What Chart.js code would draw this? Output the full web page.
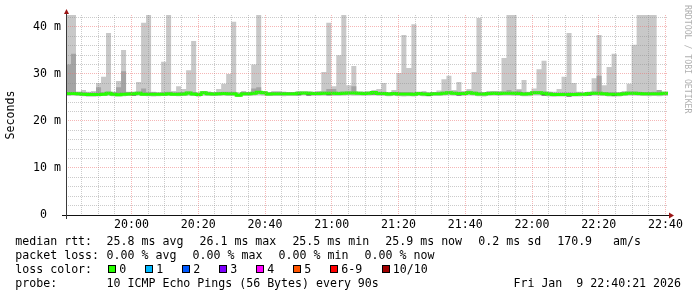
<!DOCTYPE html>
<html>
<head>
<meta charset="utf-8">
<script src="https://cdn.jsdelivr.net/npm/chart.js@4.4.1/dist/chart.umd.min.js"></script>
<style>
  html, body { margin: 0; padding: 0; background: #fff; }
  #wrap { position: relative; width: 697px; height: 297px; background: #fff; overflow: hidden; }
  #chart { position: absolute; left: 0; top: 0; }
  .txt { position: absolute; font-family: 'DejaVu Sans Mono', monospace; font-size: 11.6px; line-height: 14px; color: #000; white-space: pre; }
  .box { position: absolute; width: 8px; height: 8px; box-sizing: border-box; border: 1px solid #000; }
  #wm { position: absolute; left: 684px; top: 5px; font-family: 'DejaVu Sans Mono', monospace; font-size: 8.2px; line-height: 8px; color: #b0b0b0; writing-mode: vertical-rl; white-space: pre; }
</style>
</head>
<body>
<div id="wrap">
  <canvas id="chart" width="697" height="297"></canvas>
  <div id="wm">RRDTOOL / TOBI OETIKER</div>
  <div id="legend"></div>
</div>
<script>
// time base: one sample every 90 s, 3 hours ending 22:40:21 (minutes since midnight)
const startMinute = 1180.35;
const stepMinutes = 1.5;
const xMax = 1360.75;

// x ticks (minutes since midnight) and their labels
const majorMinutes = [1200, 1220, 1240, 1260, 1280, 1300, 1320, 1340, 1360];
const xTickLabels = ['20:00', '20:20', '20:40', '21:00', '21:20', '21:40', '22:00', '22:20', '22:40'];
// y ticks in ms
const yMajor = [0, 10, 20, 30, 40];
const yTickLabels = ['0  ', '10 m', '20 m', '30 m', '40 m'];
const yMax = 42.55;

// median rtt per 90 s step (ms)
const medianRtt = [
  25.85,25.85,25.8,25.7,25.65,25.65,25.65,25.7,25.9,25.7,25.6,25.7,25.75,25.8,25.9,25.7,25.7,25.7,25.7,25.7,
  25.8,25.7,25.7,25.75,25.95,25.75,25.65,26.0,25.8,25.75,25.8,25.85,25.8,25.8,25.5,25.8,25.8,25.9,26.1,26.0,
  25.75,25.8,25.8,25.8,25.8,25.8,25.9,25.95,25.9,25.85,25.85,25.9,25.9,25.9,25.85,25.9,25.95,25.95,25.9,25.85,
  25.9,26.05,25.85,25.85,25.75,25.85,25.75,25.75,25.75,25.7,25.85,25.75,25.7,25.8,25.8,25.9,26.0,25.9,25.85,25.85,
  26.0,25.9,25.75,25.75,25.85,25.9,25.85,25.9,25.9,25.9,25.85,25.75,25.8,26.0,26.0,25.9,25.75,25.65,25.65,25.65,
  25.65,25.65,25.7,25.7,25.85,25.9,25.9,25.8,25.7,25.7,25.7,25.8,25.9,25.9,25.85,25.8,25.8,25.8,25.8,25.9
];
// smoke: fastest and slowest ping per step (43 = clipped above the graph)
const smokeMin = [
  25.3,25.35,25.3,25.25,25.15,25.15,25.2,25.3,25.3,25.25,25.2,25.25,25.3,25.3,25.35,25.3,25.25,25.2,25.25,25.3,
  25.3,25.3,25.25,25.3,25.35,25.3,25.15,25.35,25.3,25.3,25.3,25.35,25.3,25.3,25.1,25.3,25.3,25.35,25.4,25.35,
  25.3,25.3,25.3,25.25,25.3,25.3,25.35,25.4,25.35,25.3,25.3,25.35,25.35,25.3,25.3,25.35,25.4,25.35,25.35,25.3,
  25.35,25.45,25.3,25.3,25.25,25.3,25.25,25.2,25.25,25.2,25.3,25.25,25.2,25.3,25.3,25.35,25.4,25.35,25.3,25.3,
  25.4,25.35,25.25,25.2,25.3,25.35,25.3,25.35,25.35,25.3,25.3,25.25,25.25,25.4,25.4,25.3,25.2,25.15,25.2,25.2,
  25.15,25.2,25.2,25.25,25.3,25.35,25.3,25.3,25.2,25.15,25.2,25.3,25.35,25.35,25.3,25.3,25.25,25.3,25.25,25.3
];
const smokeMax = [
  43,43,26.3,26.6,26.2,26.4,28.1,29.4,38.7,26.2,28.5,35.1,26.2,26.0,28.3,40.9,43,26.2,26.0,32.6,
  43,26.4,27.4,26.8,30.8,37.0,26.0,26.2,26.2,26.0,26.8,27.9,30.0,41.1,26.0,26.4,26.1,32.0,43,26.2,
  26.0,26.4,26.4,26.1,26.1,26.1,26.2,26.1,26.1,26.1,26.4,30.4,40.9,27.4,34.0,43,27.6,31.7,26.2,26.2,
  26.1,26.6,26.8,28.1,26.0,26.6,30.2,38.3,31.3,40.6,26.0,26.4,26.0,26.1,26.5,28.9,29.6,26.6,28.3,26.4,
  26.8,30.4,41.9,26.1,26.4,26.4,26.4,33.4,43,43,26.8,28.7,26.2,26.9,31.0,32.8,26.3,26.2,26.8,29.4,
  38.7,28.1,26.2,26.0,26.1,29.1,38.3,27.6,31.5,34.3,26.1,26.4,27.9,36.2,43,43,43,43,26.6,26.0
];
// second band: 2nd fastest / 2nd slowest ping
const midMin = [
  25.5,25.55,25.5,25.4,25.35,25.35,25.4,25.45,25.6,25.45,25.35,25.4,25.45,25.5,25.6,25.45,25.4,25.4,25.4,25.45,
  25.5,25.45,25.4,25.45,25.65,25.45,25.35,25.7,25.5,25.45,25.5,25.55,25.5,25.5,25.25,25.5,25.5,25.6,25.8,25.7,
  25.45,25.5,25.5,25.5,25.5,25.5,25.6,25.65,25.6,25.55,25.55,25.6,25.6,25.6,25.55,25.6,25.65,25.65,25.6,25.55,
  25.6,25.75,25.55,25.55,25.45,25.55,25.45,25.45,25.45,25.4,25.55,25.45,25.4,25.5,25.5,25.6,25.7,25.6,25.55,25.55,
  25.7,25.6,25.45,25.45,25.55,25.6,25.55,25.6,25.6,25.6,25.55,25.45,25.5,25.7,25.7,25.6,25.45,25.35,25.35,25.35,
  25.35,25.35,25.4,25.4,25.55,25.6,25.6,25.5,25.4,25.4,25.4,25.5,25.6,25.6,25.55,25.5,25.5,25.5,25.5,25.6
];
const midMax = [
  32.0,34.3,26.15,26.1,26.05,26.05,27.2,26.1,26.25,26.1,27.2,30.6,26.15,26.2,26.25,26.9,26.1,26.1,26.05,26.1,
  26.2,26.05,26.1,26.15,26.3,26.15,26.0,26.35,26.2,26.1,26.15,26.2,26.2,26.2,25.85,26.2,26.15,26.9,27.2,26.35,
  26.1,26.15,26.15,26.2,26.15,26.15,26.25,26.3,26.25,26.2,26.2,26.3,26.8,26.8,26.2,26.25,26.3,27.4,26.2,26.2,
  26.25,26.4,26.2,26.2,26.1,26.2,26.15,26.1,26.1,26.05,26.2,26.1,26.05,26.15,26.15,26.25,26.35,26.3,26.2,26.2,
  26.45,26.25,26.1,26.1,26.2,26.25,26.2,26.25,26.6,26.25,26.5,26.1,26.15,26.35,26.35,26.3,26.1,26.0,26.0,26.05,
  26.05,26.0,26.05,26.05,26.2,26.25,29.6,26.15,26.1,26.1,26.05,26.15,26.25,26.3,26.2,26.15,26.15,26.2,26.6,26.2
];
// inner band: lower pings close to the median (dark)
const innerMin = [
  25.75,25.75,25.7,25.6,25.55,25.55,25.55,25.6,25.8,25.6,25.5,25.6,25.65,25.45,25.8,25.6,25.6,25.6,25.6,25.6,
  25.7,25.6,25.6,25.65,25.85,25.65,25.4,25.9,25.7,25.65,25.7,25.75,25.7,25.7,25.4,25.7,25.7,25.8,26.0,25.9,
  25.65,25.7,25.7,25.7,25.7,25.7,25.5,25.85,25.45,25.75,25.75,25.8,25.5,25.8,25.75,25.8,25.85,25.85,25.8,25.75,
  25.8,25.65,25.75,25.75,25.65,25.75,25.65,25.65,25.65,25.6,25.75,25.65,25.3,25.7,25.7,25.8,25.9,25.8,25.4,25.75,
  25.9,25.8,25.65,25.65,25.75,25.8,25.75,25.8,25.8,25.8,25.75,25.65,25.7,25.9,25.9,25.45,25.65,25.55,25.55,25.55,
  25.2,25.55,25.6,25.6,25.45,25.8,25.8,25.7,25.6,25.3,25.6,25.7,25.8,25.8,25.75,25.7,25.7,25.7,25.7,25.8
];

// legend texts
const rttStats = ['25.8 ms avg', '26.1 ms max', '25.5 ms min', '25.9 ms now', '0.2 ms sd', '170.9   am/s'];
const lossStats = ['0.00 % avg', '0.00 % max', '0.00 % min', '0.00 % now'];
const lossLabels = ['0', '1', '2', '3', '4', '5', '6-9', '10/10'];
const lossColors = ['#26ff00', '#00b8ff', '#0059ff', '#7e00ff', '#ff00ff', '#ff5500', '#ff0000', '#a10000'];
const probeText = '10 ICMP Echo Pings (56 Bytes) every 90s';
const stampText = 'Fri Jan  9 22:40:21 2026';

// turn a per-step array into stepped points, last value held to the right edge
function series(values) {
  let pts = values.map((v, i) => ({ x: startMinute + i * stepMinutes, y: v }));
  pts.push({ x: xMax, y: values[values.length - 1] });
  return pts;
}

function band(values, order, fill, color) {
  return {
    data: series(values),
    stepped: 'before',
    borderWidth: 0,
    borderColor: 'transparent',
    backgroundColor: color || 'transparent',
    fill: fill || false,
    pointRadius: 0,
    order: order,
  };
}

// every 5 minutes a minor grid line
let gridMinutes = [];
for (let m = 1185; m <= 1360; m += 5) gridMinutes.push(m);
let yGrid = [];
for (let v = 0; v <= 42; v += 2) yGrid.push(v);

const minorGrid = 'rgba(140,140,140,0.45)';
const majorGrid = 'rgba(235,110,110,0.5)';

Chart.defaults.font.family = "'DejaVu Sans Mono', monospace";
Chart.defaults.font.size = 11.6;
Chart.defaults.color = '#000';

// axes lines and arrow heads like rrdtool
const axisArrows = {
  id: 'axisArrows',
  afterDraw(chart) {
    const { ctx, chartArea: a } = chart;
    ctx.save();
    ctx.lineWidth = 1;
    ctx.strokeStyle = '#111';
    ctx.beginPath();
    ctx.moveTo(a.left - 4, a.bottom + 0.5);
    ctx.lineTo(a.right + 2, a.bottom + 0.5);
    ctx.stroke();
    ctx.strokeStyle = '#3a3a3a';
    ctx.beginPath();
    ctx.moveTo(a.left + 0.5, a.bottom + 4);
    ctx.lineTo(a.left + 0.5, a.top - 2);
    ctx.stroke();
    ctx.fillStyle = '#9b1616';
    ctx.beginPath();
    ctx.moveTo(a.right + 1, a.bottom - 2.5);
    ctx.lineTo(a.right + 6, a.bottom + 0.5);
    ctx.lineTo(a.right + 1, a.bottom + 3.5);
    ctx.closePath();
    ctx.fill();
    ctx.beginPath();
    ctx.moveTo(a.left - 2, a.top - 1);
    ctx.lineTo(a.left + 0.5, a.top - 6);
    ctx.lineTo(a.left + 3, a.top - 1);
    ctx.closePath();
    ctx.fill();
    ctx.restore();
  }
};

const chart = new Chart(document.getElementById('chart'), {
  type: 'line',
  data: {
    datasets: [
      band(smokeMin, 7),
      band(smokeMax, 6, '-1', '#c8c8c8'),
      band(midMin, 5),
      band(midMax, 4, '-1', '#a4a4a4'),
      band(innerMin, 3, '+1', '#4a4a4a'),
      {
        data: series(medianRtt),
        stepped: 'before',
        borderColor: '#26ff00',
        borderWidth: 3,
        pointRadius: 0,
        fill: false,
        order: 0,
      },
    ],
  },
  options: {
    responsive: false,
    animation: false,
    events: [],
    layout: { padding: { left: 0, right: 29, top: 15, bottom: 0 } },
    plugins: { legend: { display: false }, tooltip: { enabled: false } },
    scales: {
      x: {
        type: 'linear',
        min: startMinute,
        max: xMax,
        afterFit(scale) { scale.height = 82; },
        afterBuildTicks(scale) { scale.ticks = gridMinutes.map(v => ({ value: v })); },
        ticks: {
          autoSkip: false,
          maxRotation: 0,
          padding: 3,
          callback(value) {
            let i = majorMinutes.indexOf(value);
            return i >= 0 ? xTickLabels[i] : '';
          },
        },
        grid: {
          drawTicks: false,
          z: 1,
          color(c) { return c.tick && c.tick.value % 20 === 0 ? majorGrid : minorGrid; },
        },
        border: { display: false, dash: [1, 1] },
      },
      y: {
        type: 'linear',
        min: 0,
        max: yMax,
        afterFit(scale) { scale.width = 66; },
        afterBuildTicks(scale) { scale.ticks = yGrid.map(v => ({ value: v })); },
        ticks: {
          autoSkip: false,
          padding: 5,
          callback(value) {
            let i = yMajor.indexOf(value);
            return i >= 0 ? yTickLabels[i] : '';
          },
        },
        grid: {
          drawTicks: false,
          z: 1,
          color(c) {
            if (!c.tick || c.tick.value === 0) return 'transparent';
            return c.tick.value % 10 === 0 ? majorGrid : minorGrid;
          },
        },
        border: { display: false, dash: [1, 1] },
        title: { display: true, text: 'Seconds', padding: { top: 4, bottom: 0 }, font: { size: 11.6 } },
      },
    },
  },
  plugins: [axisArrows],
});

// legend block under the graph
const legend = document.getElementById('legend');
function addText(text, x, y, right) {
  let el = document.createElement('div');
  el.className = 'txt';
  el.textContent = text;
  el.style.top = y + 'px';
  if (right) el.style.right = x + 'px'; else el.style.left = x + 'px';
  legend.appendChild(el);
}
const rowTop = [233.5, 247.5, 261.5, 275.5];
const rttX = [106.6, 199.5, 292.4, 385.3, 478.3, 557.2];
const lossX = [106.6, 192.6, 278.6, 364.6];
const boxX = [108, 145, 182, 219, 256, 293, 330, 381.5];

addText('median rtt:', 15.3, rowTop[0]);
rttStats.forEach((t, i) => addText(t, rttX[i], rowTop[0]));
addText('packet loss:', 15.3, rowTop[1]);
lossStats.forEach((t, i) => addText(t, lossX[i], rowTop[1]));
addText('loss color:', 15.3, rowTop[2]);
lossLabels.forEach((t, i) => {
  let b = document.createElement('div');
  b.className = 'box';
  b.style.left = boxX[i] + 'px';
  b.style.top = '265px';
  b.style.background = lossColors[i];
  legend.appendChild(b);
  addText(t, boxX[i] + 11.3, rowTop[2]);
});
addText('probe:', 15.3, rowTop[3]);
addText(probeText, 106.6, rowTop[3]);
addText(stampText, 16, rowTop[3], true);
</script>
</body>
</html>
